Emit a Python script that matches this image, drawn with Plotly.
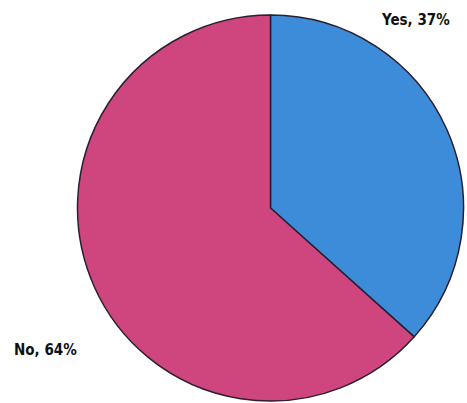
import plotly.graph_objects as go

labels = ["Yes", "No"]
values = [37, 64]
colors = ["#3d8cda", "#cf467f"]

W, H = 467, 403

def fx(px):
    return px / W

def fy(py):
    return 1 - py / H

fig = go.Figure(go.Pie(
    labels=labels,
    values=values,
    sort=False,
    direction="clockwise",
    rotation=0,
    textinfo="none",
    hoverinfo="label+value",
    marker=dict(colors=colors, line=dict(color="#2a2030", width=1.5)),
    domain=dict(x=[fx(77), fx(464)], y=[fy(401), fy(15)]),
    showlegend=False,
))

label_pos = {"Yes": (415, 20), "No": (45, 350)}
font = dict(family="Liberation Sans Narrow, DejaVu Sans Condensed, Arial Narrow, sans-serif",
            size=15, color="#111111")
for lab, val in zip(labels, values):
    px, py = label_pos[lab]
    fig.add_annotation(
        x=fx(px), y=fy(py), xref="paper", yref="paper",
        text=f"<b>{lab}, {val}%</b>", showarrow=False,
        font=font, xanchor="center", yanchor="middle",
    )

fig.update_layout(
    width=W, height=H,
    margin=dict(l=0, r=0, t=0, b=0),
    paper_bgcolor="white",
    plot_bgcolor="white",
)

fig.write_html(
    "out.html",
    config={"displayModeBar": False},
    post_script="document.body.style.margin='0';document.body.style.overflow='hidden';",
)
